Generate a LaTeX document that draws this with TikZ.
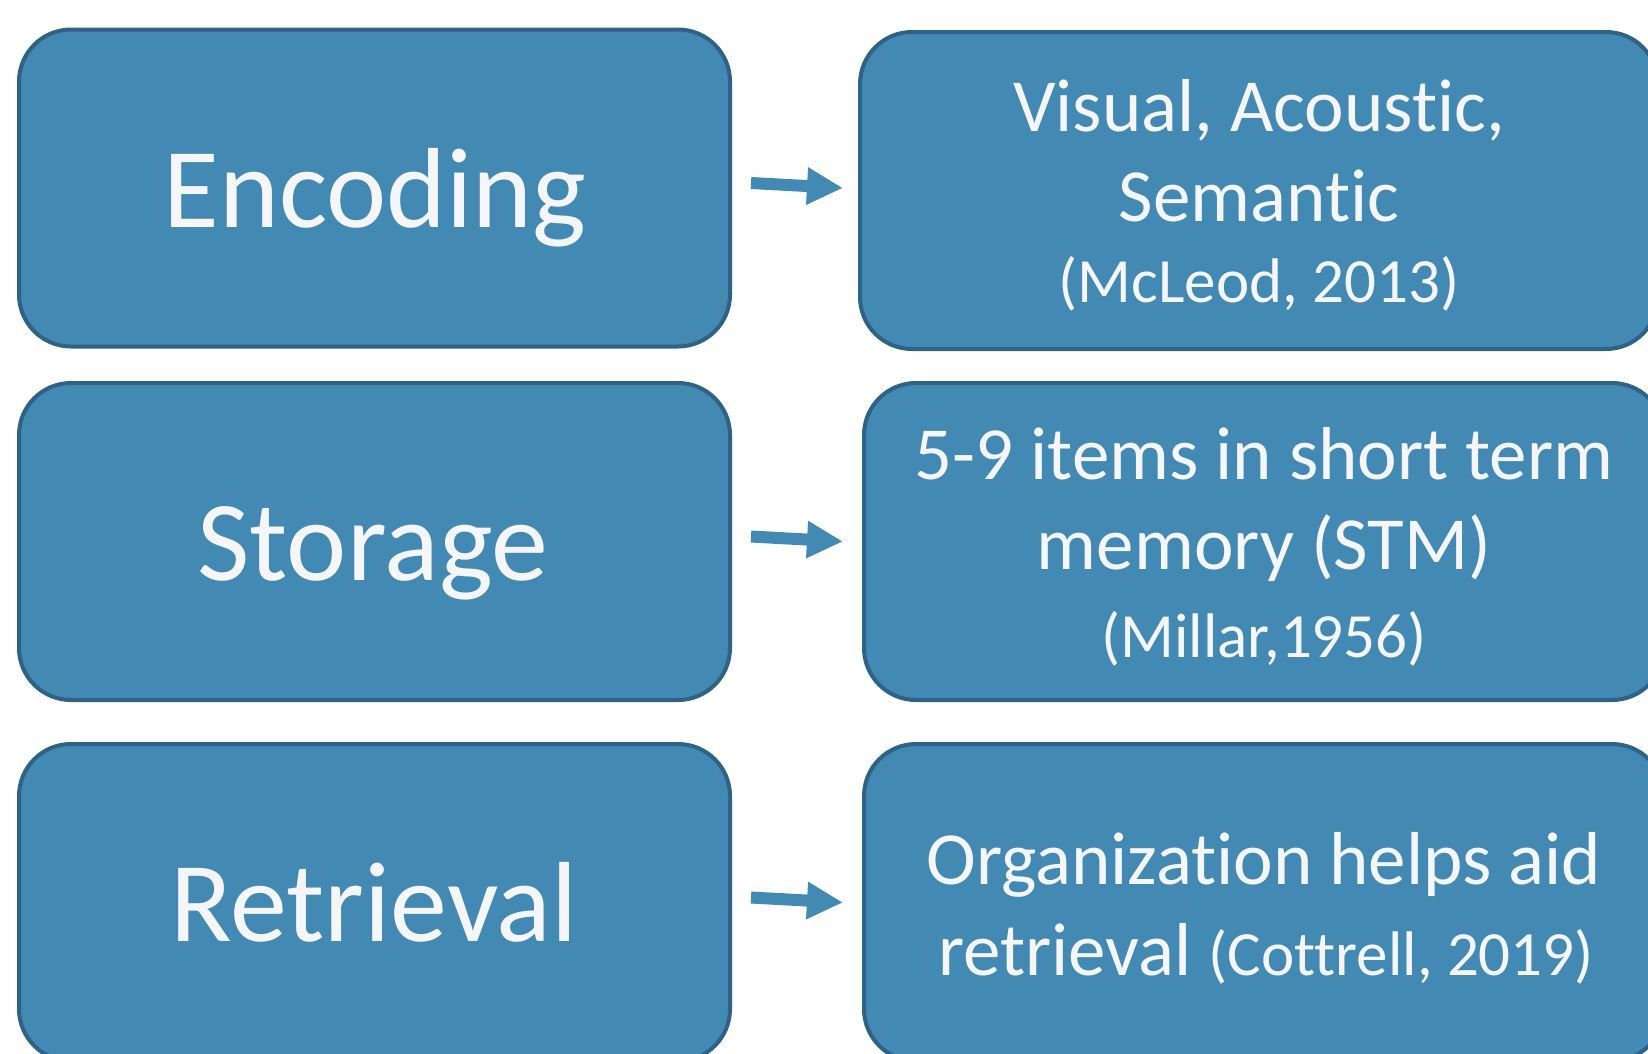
\documentclass[tikz,border=0pt]{standalone}
\usepackage{fontspec}
\setmainfont{Carlito}[Ligatures={NoCommon}]
\usetikzlibrary{arrows.meta,calc}
\definecolor{boxfill}{HTML}{428AB4}
\definecolor{boxline}{HTML}{2E6286}
\definecolor{txt}{HTML}{F5F6FA}
\begin{document}
\begin{tikzpicture}[x=1pt,y=-1pt,
  box/.style={draw=boxline, line width=4pt, fill=boxfill, rounded corners=52pt,
    inner sep=0pt, outer sep=0pt, minimum height=317pt},
  lbox/.style={box, minimum width=711pt},
  rbox/.style={box, minimum width=800pt},
  bigtxt/.style={text=txt, inner sep=0pt, anchor=base, font=\fontsize{114}{137}\selectfont},
  medtxt/.style={text=txt, inner sep=0pt, anchor=base, font=\fontsize{75}{90}\selectfont},
  citetxt/.style={text=txt, inner sep=0pt, anchor=base, font=\fontsize{63}{76}\selectfont},
  fatarrow/.style={draw=boxfill, line width=12pt, -{Triangle[length=36pt,width=35pt]}}
]
\useasboundingbox (0,0) rectangle (1648,1053);
\clip (0,0) rectangle (1648,1053);

% left boxes
\node[lbox] (enc) at (374.5,188) {};
\node[lbox] (sto) at (374.5,541.5) {};
\node[lbox] (ret) at (374.5,902.5) {};

% right boxes
\node[rbox, minimum width=798pt] (vis) at (1259,190.5) {};
\node[rbox] (stm) at (1264,541.5) {};
\node[rbox] (org) at (1264,902.5) {};

% left texts
\node[bigtxt] (enct) at (375,227) {Encoding};
\node[bigtxt] (stot) at (373,580) {Storage};
\node[bigtxt] (rett) at (374,941) {Retrieval};

% right texts
\node[medtxt] (vis1) at (1259,131) {Visual, Acoustic,};
\node[medtxt] (vis2) at (1259,221.5) {Semantic};
\node[citetxt] (vis3) at (1259,302) {(McLeod, 2013)};

\node[medtxt] (stm1) at (1264,479) {5-9 items in short term};
\node[medtxt] (stm2) at (1264,569) {memory (STM)};
\node[citetxt] (stm3) at (1264,657) {(Millar,1956)};

\node[medtxt] (org1) at (1264,884) {Organization helps aid};
\node[medtxt] (org2) at (1266,975) {retrieval {\fontsize{63}{76}\selectfont(Cottrell, 2019)}};

% arrows
\draw[fatarrow] ($(enc.east)+(21,-5)$) -- ($(enc.east)+(113,0)$);
\draw[fatarrow] ($(sto.east)+(21,-5)$) -- ($(sto.east)+(113,0)$);
\draw[fatarrow] ($(ret.east)+(21,-5)$) -- ($(ret.east)+(113,0)$);
\end{tikzpicture}
\end{document}
